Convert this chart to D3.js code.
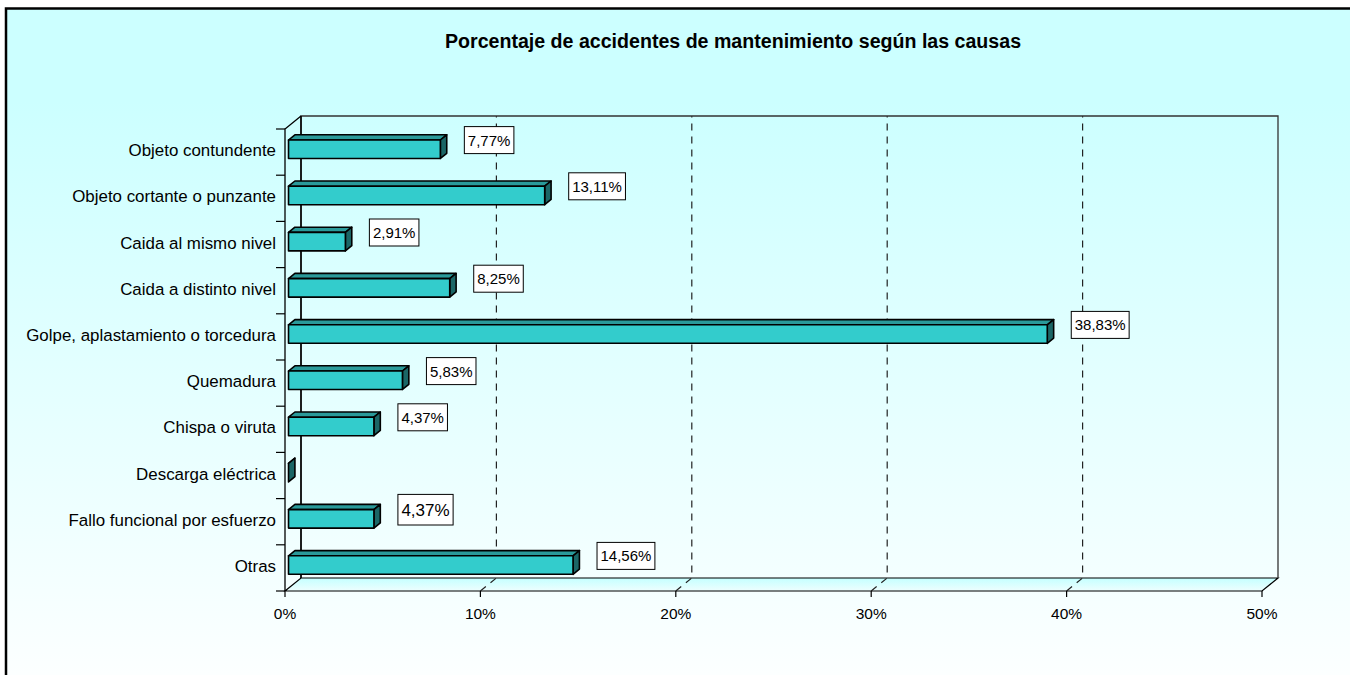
<!DOCTYPE html>
<html>
<head>
<meta charset="utf-8">
<script src="https://cdn.jsdelivr.net/npm/d3@7"></script>
<style>
  body { margin: 0; background: #fff; }
  svg { display: block; font-family: 'Liberation Sans', Arial, sans-serif; }
</style>
</head>
<body>
<div id="chart"></div>
<script>
// Data
const title = 'Porcentaje de accidentes de mantenimiento según las causas';
const categories = [
  'Objeto contundente',
  'Objeto cortante o punzante',
  'Caida al mismo nivel',
  'Caida a distinto nivel',
  'Golpe, aplastamiento o torcedura',
  'Quemadura',
  'Chispa o viruta',
  'Descarga eléctrica',
  'Fallo funcional por esfuerzo',
  'Otras',
];
const values = [7.77, 13.11, 2.91, 8.25, 38.83, 5.83, 4.37, 0, 4.37, 14.56];
const valueLabels = ['7,77%', '13,11%', '2,91%', '8,25%', '38,83%', '5,83%', '4,37%', '', '4,37%', '14,56%'];
const xTicks = [0, 10, 20, 30, 40, 50];
const xTickLabels = ['0%', '10%', '20%', '30%', '40%', '50%'];

const W = 1350;
const H = 675;

// Plot area (front plane) and depth
const plotLeft = 285;
const plotRight = 1262;
const plotTop = 129;
const plotBottom = 591;
const depth = [16, -13];
const f1 = 0.22; // bar front plane
const f2 = 0.62; // bar back plane

const svg = d3.select('#chart').append('svg').attr('width', W).attr('height', H);

// Gradients
const defs = svg.append('defs');
const bg = defs
  .append('linearGradient')
  .attr('id', 'bg')
  .attr('gradientUnits', 'userSpaceOnUse')
  .attr('x1', 0)
  .attr('y1', 0)
  .attr('x2', 0)
  .attr('y2', H);
bg.append('stop').attr('offset', '0%').attr('stop-color', '#ccffff');
bg.append('stop').attr('offset', '15%').attr('stop-color', '#ccffff');
bg.append('stop').attr('offset', '100%').attr('stop-color', '#fcffff');

const floorGrad = defs
  .append('linearGradient')
  .attr('id', 'floor')
  .attr('x1', 0)
  .attr('y1', 0)
  .attr('x2', 0)
  .attr('y2', 1);
floorGrad.append('stop').attr('offset', '0%').attr('stop-color', '#c4ffff');
floorGrad.append('stop').attr('offset', '100%').attr('stop-color', '#eefefe');

// Background + outer frame
svg
  .append('rect')
  .attr('x', 6)
  .attr('y', 8.5)
  .attr('width', W + 20)
  .attr('height', H + 20)
  .attr('fill', 'url(#bg)')
  .attr('stroke', '#000')
  .style('stroke-width', '2.5px');

// Title
svg
  .append('text')
  .attr('x', 733)
  .attr('y', 48)
  .attr('text-anchor', 'middle')
  .style('font-size', '19.6px')
  .style('font-weight', 'bold')
  .text(title);

// Scales
const x = d3.scaleLinear().domain([0, 50]).range([plotLeft, plotRight]);
const y = d3.scaleBand().domain(categories).range([plotTop, plotBottom]).paddingInner(0.6).paddingOuter(0.3);
const step = y.step();
const bw = y.bandwidth();

const line = d3.line();

// Floor
svg
  .append('path')
  .attr(
    'd',
    line([
      [plotLeft, plotBottom],
      [plotRight, plotBottom],
      [plotRight + depth[0], plotBottom + depth[1]],
      [plotLeft + depth[0], plotBottom + depth[1]],
    ]) + 'Z'
  )
  .attr('fill', 'url(#floor)')
  .attr('stroke', '#000')
  .style('stroke-width', '1.2px');

// Gridlines on back wall + floor
const grid = svg
  .append('g')
  .attr('stroke', '#222')
  .style('stroke-width', '1.2px')
  .attr('stroke-dasharray', '7,6')
  .attr('fill', 'none');
xTicks
  .filter((t) => t > 0 && t < 50)
  .forEach((t) => {
    grid
      .append('path')
      .attr(
        'd',
        line([
          [x(t), plotBottom],
          [x(t) + depth[0], plotBottom + depth[1]],
          [x(t) + depth[0], plotTop + depth[1]],
        ])
      );
  });

// Back wall edges
svg
  .append('path')
  .attr(
    'd',
    line([
      [plotLeft + depth[0], plotBottom + depth[1]],
      [plotLeft + depth[0], plotTop + depth[1]],
      [plotRight + depth[0], plotTop + depth[1]],
      [plotRight + depth[0], plotBottom + depth[1]],
    ])
  )
  .attr('fill', 'none')
  .attr('stroke', '#333')
  .style('stroke-width', '1.3px');
svg
  .append('line')
  .attr('x1', plotLeft + depth[0])
  .attr('x2', plotLeft + depth[0])
  .attr('y1', plotTop + depth[1])
  .attr('y2', plotBottom + depth[1])
  .attr('stroke', '#000')
  .style('stroke-width', '1.5px');

// Left wall (front axis) edges
svg
  .append('path')
  .attr(
    'd',
    line([
      [plotLeft, plotBottom],
      [plotLeft, plotTop],
      [plotLeft + depth[0], plotTop + depth[1]],
    ])
  )
  .attr('fill', 'none')
  .attr('stroke', '#000')
  .style('stroke-width', '1.3px');

// Category ticks
svg
  .selectAll('.ctick')
  .data(d3.range(categories.length + 1))
  .enter()
  .append('line')
  .attr('x1', plotLeft - 9)
  .attr('x2', plotLeft)
  .attr('y1', (i) => plotTop + i * step)
  .attr('y2', (i) => plotTop + i * step)
  .attr('stroke', '#000')
  .style('stroke-width', '1.2px');

// Category labels
svg
  .selectAll('.clabel')
  .data(categories)
  .enter()
  .append('text')
  .attr('x', plotLeft - 9)
  .attr('y', (d) => y(d) + bw / 2 + 4)
  .attr('text-anchor', 'end')
  .style('font-size', '16.9px')
  .text((d) => d);

// X ticks + labels
svg
  .selectAll('.xtick')
  .data(xTicks)
  .enter()
  .append('line')
  .attr('x1', (d) => x(d))
  .attr('x2', (d) => x(d))
  .attr('y1', plotBottom)
  .attr('y2', plotBottom + 6)
  .attr('stroke', '#000')
  .style('stroke-width', '1.2px');
svg
  .selectAll('.xlabel')
  .data(xTicks)
  .enter()
  .append('text')
  .attr('x', (d) => x(d))
  .attr('y', 619)
  .attr('text-anchor', 'middle')
  .style('font-size', '15.5px')
  .text((d, i) => xTickLabels[i]);

// Bars
const o1 = [depth[0] * f1, depth[1] * f1];
const o2 = [depth[0] * f2, depth[1] * f2];
const barData = categories.map((c, i) => ({ cat: c, val: values[i], label: valueLabels[i] }));
const bars = svg
  .selectAll('.bar')
  .data(barData)
  .enter()
  .append('g')
  .attr('stroke', '#000')
  .style('stroke-width', '1.6px')
  .attr('stroke-linejoin', 'round');

// top face
bars
  .append('path')
  .attr('d', (d) => {
    const yt = y(d.cat);
    return (
      line([
        [x(0) + o1[0], yt + o1[1]],
        [x(d.val) + o1[0], yt + o1[1]],
        [x(d.val) + o2[0], yt + o2[1]],
        [x(0) + o2[0], yt + o2[1]],
      ]) + 'Z'
    );
  })
  .attr('fill', '#2a9a9a');
// end face
bars
  .append('path')
  .attr('d', (d) => {
    const yt = y(d.cat);
    const xv = x(d.val);
    return (
      line([
        [xv + o1[0], yt + o1[1]],
        [xv + o2[0], yt + o2[1]],
        [xv + o2[0], yt + bw + o2[1]],
        [xv + o1[0], yt + bw + o1[1]],
      ]) + 'Z'
    );
  })
  .attr('fill', '#1b6666');
// front face
bars
  .filter((d) => d.val > 0)
  .append('rect')
  .attr('x', x(0) + o1[0])
  .attr('y', (d) => y(d.cat) + o1[1])
  .attr('width', (d) => x(d.val) - x(0))
  .attr('height', bw)
  .attr('fill', '#33cccc');

// Value labels
const labelSize = (d) => (d.cat === 'Fallo funcional por esfuerzo' ? 17 : 15);
const labels = svg
  .selectAll('.vlabel')
  .data(barData.filter((d) => d.label !== ''))
  .enter()
  .append('g')
  .attr('transform', (d) => `translate(${x(d.val) + o1[0] + 24},${y(d.cat) + bw / 2 - 12})`);
labels.each(function (d) {
  const g = d3.select(this);
  const fs = labelSize(d);
  const t = g
    .append('text')
    .attr('y', fs * 0.36)
    .style('font-size', fs + 'px')
    .text(d.label);
  const tw = t.node().getComputedTextLength();
  const bh = fs * 1.8;
  g.insert('rect', 'text')
    .attr('x', 0)
    .attr('y', -bh / 2)
    .attr('width', tw + 7)
    .attr('height', bh)
    .attr('fill', '#fff')
    .attr('stroke', '#000')
    .style('stroke-width', '1px');
  t.attr('x', 3.5);
});
</script>
</body>
</html>
